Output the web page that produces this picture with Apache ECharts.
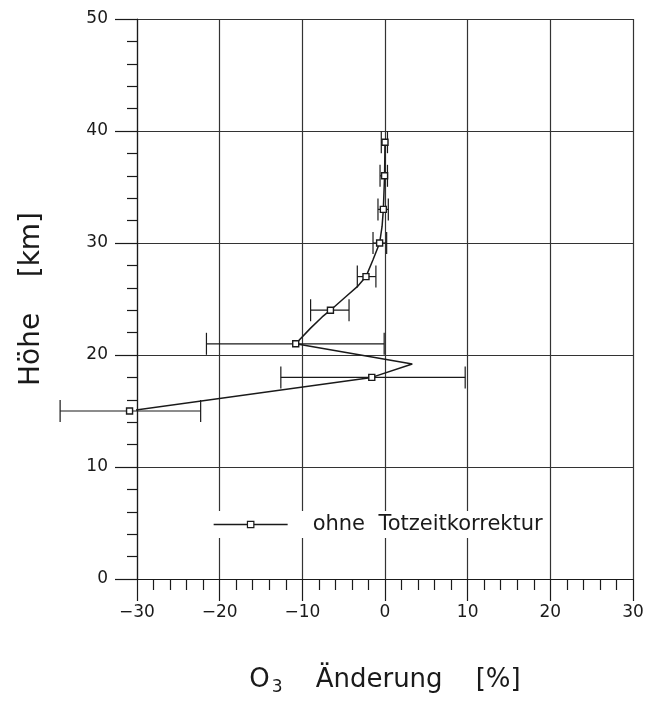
<!DOCTYPE html>
<html>
<head>
<meta charset="utf-8">
<script src="https://cdn.jsdelivr.net/npm/echarts@6/dist/echarts.min.js"></script>
<style>
  html, body { margin: 0; padding: 0; background: #fff; }
  #chart { width: 649px; height: 701px; }
</style>
</head>
<body>
<div id="chart"></div>
<script>
// Measured heights (km) and ozone change (%) with error ranges
const heights = [15, 18, 21, 24, 27, 30, 33, 36, 39];
const changes = [-30.9, -1.6, -10.8, -6.6, -2.3, -0.65, -0.2, -0.05, 0];
const errLow  = [-39.3, -12.6, -21.6, -9.0, -3.35, -1.45, -0.85, -0.6, -0.45];
const errHigh = [-22.3, 9.7, -0.1, -4.35, -1.1, 0.2, 0.4, 0.3, 0.3];

// Profile curve through the measurements
const profileHeights = [15, 18, 19.2, 21, 22.4, 23.4, 24, 25.2, 26.1, 27, 28.5, 30, 31.5, 33, 36, 39];
const profileValues  = [-30.9, -1.6, 3.3, -10.8, -9.0, -7.6, -6.6, -4.75, -3.35, -2.3, -1.45, -0.65, -0.35, -0.2, -0.05, 0];

const xTicks = [-30, -20, -10, 0, 10, 20, 30];
const yTicks = [0, 10, 20, 30, 40, 50];

const seriesName = 'ohne Totzeitkorrektur';
const ink = '#1a1a1a';
const font = 'DejaVu Sans';

const chart = echarts.init(document.getElementById('chart'), null, { renderer: 'canvas' });

const pointData = heights.map((h, i) => [changes[i], h]);
const profileData = profileHeights.map((h, i) => [profileValues[i], h]);
const errData = heights.map((h, i) => [errLow[i], errHigh[i], h]);

chart.setOption({
  backgroundColor: '#fff',
  animation: false,
  grid: { left: 137, right: 16, top: 19, bottom: 121.5 },
  legend: {
    data: [seriesName],
    left: 205,
    top: 511,
    itemWidth: 74,
    itemHeight: 8,
    backgroundColor: '#fff',
    padding: [3, 6, 3, 8],
    lineStyle: { color: ink, width: 1.3, opacity: 1 },
    itemStyle: { color: '#fff', borderColor: ink, borderWidth: 1.2 },
    textStyle: { fontFamily: font, fontSize: 21, color: ink, padding: [0, 0, 0, 20] },
    formatter: () => 'ohne  Totzeitkorrektur'
  },
  xAxis: {
    type: 'value',
    min: xTicks[0],
    max: xTicks[xTicks.length - 1],
    interval: 10,
    name: '{a|O}{s|3}{a|    Änderung    [%]}',
    nameLocation: 'middle',
    nameGap: 85,
    nameTextStyle: {
      rich: {
        a: { fontFamily: font, fontSize: 26, color: ink },
        s: { fontFamily: font, fontSize: 17, color: ink, verticalAlign: 'bottom', padding: [15, 0, 0, 2] }
      }
    },
    axisLine: { show: true, onZero: false, lineStyle: { color: ink, width: 1.2 } },
    axisTick: { show: true, length: 22, lineStyle: { color: ink, width: 1.2 } },
    minorTick: { show: true, splitNumber: 5, length: 11, lineStyle: { color: ink, width: 1.2 } },
    splitLine: { show: true, lineStyle: { color: '#333', width: 1.2 } },
    axisLabel: {
      fontFamily: font, fontSize: 17, color: ink, margin: 25,
      formatter: v => (v < 0 ? '\u2212' + Math.abs(v) : String(v))
    }
  },
  yAxis: {
    type: 'value',
    min: yTicks[0],
    max: yTicks[yTicks.length - 1],
    interval: 10,
    name: 'Höhe    [km]',
    nameLocation: 'middle',
    nameRotate: 90,
    nameGap: 91,
    nameTextStyle: { fontFamily: font, fontSize: 28, color: ink },
    axisLine: { show: true, onZero: false, lineStyle: { color: ink, width: 1.2 } },
    axisTick: { show: true, length: 22, lineStyle: { color: ink, width: 1.2 } },
    minorTick: { show: true, splitNumber: 5, length: 10, lineStyle: { color: ink, width: 1.2 } },
    splitLine: { show: true, lineStyle: { color: '#333', width: 1.2 } },
    axisLabel: { fontFamily: font, fontSize: 17, color: ink, margin: 29 }
  },
  series: [
    {
      name: 'profile',
      type: 'line',
      data: profileData,
      showSymbol: false,
      symbol: 'none',
      clip: false,
      smooth: false,
      lineStyle: { color: ink, width: 1.5 },
      z: 3
    },
    {
      name: 'errors',
      type: 'custom',
      data: errData,
      clip: false,
      encode: { x: [0, 1], y: 2 },
      renderItem: (params, api) => {
        const lo = api.coord([api.value(0), api.value(2)]);
        const hi = api.coord([api.value(1), api.value(2)]);
        const cap = 11;
        const style = { stroke: ink, lineWidth: 1.2 };
        return {
          type: 'group',
          children: [
            { type: 'line', shape: { x1: lo[0], y1: lo[1], x2: hi[0], y2: hi[1] }, style },
            { type: 'line', shape: { x1: lo[0], y1: lo[1] - cap, x2: lo[0], y2: lo[1] + cap }, style },
            { type: 'line', shape: { x1: hi[0], y1: hi[1] - cap, x2: hi[0], y2: hi[1] + cap }, style }
          ]
        };
      },
      z: 4
    },
    {
      name: seriesName,
      type: 'line',
      data: pointData,
      symbol: 'rect',
      symbolSize: 6,
      showSymbol: true,
      clip: false,
      lineStyle: { opacity: 0 },
      itemStyle: { color: '#fff', borderColor: ink, borderWidth: 1.4 },
      z: 5
    }
  ]
});
</script>
</body>
</html>
